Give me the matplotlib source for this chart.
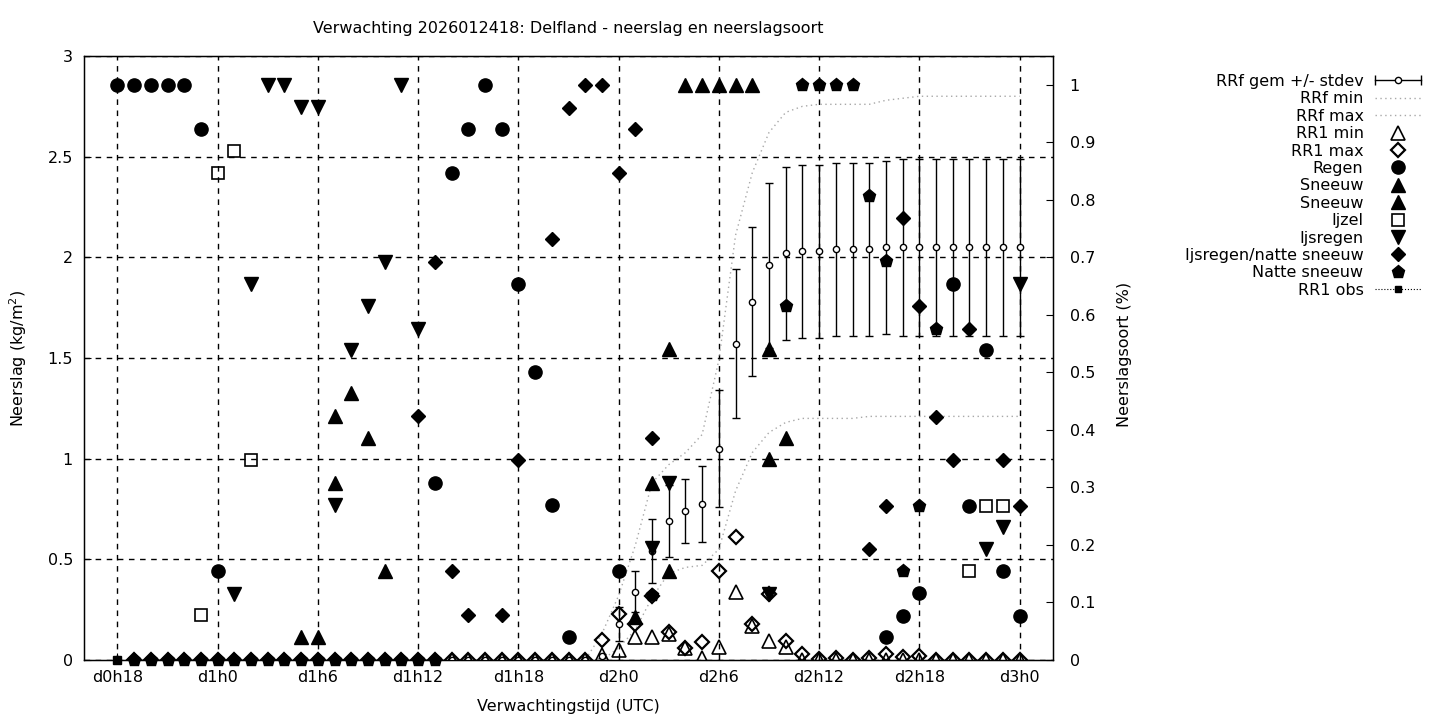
import numpy as np
import matplotlib
matplotlib.use('Agg')
import matplotlib.pyplot as plt
from matplotlib.lines import Line2D
from matplotlib.legend_handler import HandlerBase
from matplotlib.ticker import FuncFormatter

# --- data -----------------------------------------------------------------
# lead hours (hour 24 = d1h0)
uren = list(range(19, 73))

# RRf (kg/m2), left axis
rrf_gem = [0, 0, 0, 0, 0, 0, 0, 0, 0, 0, 0, 0, 0, 0, 0, 0, 0, 0, 0, 0, 0, 0, 0, 0, 0, 0, 0, 0,
           0.02, 0.18, 0.34, 0.54, 0.69, 0.74, 0.775, 1.05, 1.57, 1.78, 1.96, 2.02, 2.03,
           2.03, 2.04, 2.04, 2.04, 2.05, 2.05, 2.05, 2.05, 2.05, 2.05, 2.05, 2.05, 2.05]
rrf_std = [0, 0, 0, 0, 0, 0, 0, 0, 0, 0, 0, 0, 0, 0, 0, 0, 0, 0, 0, 0, 0, 0, 0, 0, 0, 0, 0, 0,
           0.01, 0.085, 0.10, 0.16, 0.18, 0.16, 0.19, 0.29, 0.37, 0.37, 0.41, 0.43, 0.43,
           0.43, 0.43, 0.43, 0.43, 0.43, 0.44, 0.44, 0.44, 0.44, 0.44, 0.44, 0.44, 0.44]
rrf_min = [0, 0, 0, 0, 0, 0, 0, 0, 0, 0, 0, 0, 0, 0, 0, 0, 0, 0, 0, 0, 0, 0, 0, 0, 0, 0, 0, 0,
           0, 0.06, 0.15, 0.31, 0.43, 0.46, 0.47, 0.55, 0.84, 1.03, 1.13, 1.18, 1.20,
           1.20, 1.20, 1.20, 1.21, 1.21, 1.21, 1.21, 1.21, 1.21, 1.21, 1.21, 1.21, 1.21]
rrf_max = [0, 0, 0, 0, 0, 0, 0, 0, 0, 0, 0, 0, 0, 0, 0, 0, 0, 0, 0, 0, 0, 0, 0, 0, 0, 0, 0, 0,
           0.13, 0.32, 0.57, 0.88, 0.97, 1.03, 1.12, 1.49, 2.11, 2.42, 2.62, 2.72, 2.75,
           2.76, 2.76, 2.76, 2.76, 2.78, 2.79, 2.80, 2.80, 2.80, 2.80, 2.80, 2.80, 2.80]

# RR1 (kg/m2), left axis
rr1_min = [0, 0, 0, 0, 0, 0, 0, 0, 0, 0, 0, 0, 0, 0, 0, 0, 0, 0, 0, 0, 0, 0, 0, 0, 0, 0, 0, 0,
           0.025, 0.05, 0.115, 0.115, 0.13, 0.06, 0.01, 0.065, 0.34, 0.17, 0.095, 0.065, 0,
           0, 0, 0, 0, 0, 0, 0, 0, 0, 0, 0, 0, 0]
rr1_max = [0, 0, 0, 0, 0, 0, 0, 0, 0, 0, 0, 0, 0, 0, 0, 0, 0, 0, 0, 0, 0, 0, 0, 0, 0, 0, 0, 0,
           0.10, 0.23, 0.18, 0.32, 0.14, 0.06, 0.09, 0.44, 0.61, 0.18, 0.33, 0.095, 0.03,
           0.005, 0.01, 0, 0.01, 0.03, 0.015, 0.02, 0, 0, 0, 0, 0, 0]
obs_uren = [18]
rr1_obs = [0]

# neerslagsoort (fraction), right axis
regen_uren = [18, 19, 20, 21, 22, 23, 24, 37, 38, 39, 40, 41, 42, 43, 44, 45, 48,
              64, 65, 66, 68, 69, 70, 71, 72]
regen = [1, 1, 1, 1, 1, 0.923, 0.155, 0.308, 0.847, 0.923, 1.0, 0.923, 0.654, 0.5, 0.27,
         0.04, 0.155, 0.04, 0.077, 0.117, 0.654, 0.268, 0.539, 0.155, 0.077]
sneeuw_uren = [29, 30, 31, 32, 33, 34, 49, 50, 51, 52, 53, 54, 55, 56, 57, 58]
sneeuw = [0.04, 0.04, 0.424, 0.464, 0.386, 0.155, 0.075, 0.308, 0.541, 1, 1, 1, 1, 1,
          0.541, 0.386]
sneeuw2_uren = [31, 51, 57]
sneeuw2 = [0.308, 0.155, 0.35]
ijzel_uren = [23, 24, 25, 26, 69, 70, 71]
ijzel = [0.078, 0.847, 0.885, 0.347, 0.155, 0.268, 0.268]
ijsregen_uren = [25, 26, 27, 28, 29, 30, 31, 32, 33, 34, 35, 36, 50, 51, 57, 70, 71, 72]
ijsregen = [0.115, 0.654, 1, 1, 0.962, 0.962, 0.27, 0.539, 0.616, 0.692, 1, 0.576,
            0.195, 0.308, 0.115, 0.193, 0.231, 0.654]
ijs_nat_uren = [36, 37, 38, 39, 41, 42, 44, 45, 46, 47, 48, 49, 50, 63, 64, 65, 66, 67,
                68, 69, 71, 72]
ijs_nat = [0.424, 0.692, 0.155, 0.078, 0.078, 0.347, 0.732, 0.96, 1, 1, 0.847, 0.923,
           0.386, 0.193, 0.268, 0.769, 0.616, 0.423, 0.348, 0.576, 0.348, 0.268]
nat_uren = [19, 20, 21, 22, 23, 24, 25, 26, 27, 28, 29, 30, 31, 32, 33, 34, 35, 36, 37,
            50, 58, 59, 60, 61, 62, 63, 64, 65, 66, 67]
nat = [0, 0, 0, 0, 0, 0, 0, 0, 0, 0, 0, 0, 0, 0, 0, 0, 0, 0, 0,
       0.113, 0.616, 1, 1, 1, 1, 0.807, 0.694, 0.155, 0.268, 0.576]

tick_uren = [18, 24, 30, 36, 42, 48, 54, 60, 66, 72]
tick_labels = ['d0h18', 'd1h0', 'd1h6', 'd1h12', 'd1h18', 'd2h0', 'd2h6', 'd2h12',
               'd2h18', 'd3h0']


class ErrHandler(HandlerBase):
    # gnuplot style errorbar key: horizontal line, end ticks, open circle
    def create_artists(self, legend, orig_handle, xdescent, ydescent, width, height,
                       fontsize, trans):
        y = (height - ydescent) / 2.
        x0, x1 = -xdescent, -xdescent + width
        line = Line2D([x0, x1], [y, y], color='k', lw=1)
        caps = Line2D([x0, x1], [y, y], ls='none', marker='|', ms=7, mew=1, color='k')
        dot = Line2D([(x0 + x1) / 2], [y], ls='none', marker='o', ms=4.5,
                     mfc='white', mec='k', mew=1)
        for a in (line, caps, dot):
            a.set_transform(trans)
        return [line, caps, dot]


plt.rcParams['font.family'] = ['DejaVu Sans']
plt.rcParams['font.size'] = 11

fig = plt.figure(figsize=(14.4, 7.2), dpi=100)
ax = fig.add_axes([84 / 1440, 60 / 720, (1053 - 84) / 1440, (660 - 56) / 720])
ax2 = ax.twinx()

grijs = '#a8a8a8'
dots = (0, (1, 2.5))

ax.errorbar(uren, rrf_gem, yerr=rrf_std, fmt='o', ms=4.5, mfc='white', mec='k', mew=1,
            ecolor='k', elinewidth=1, capsize=2.9, capthick=1, zorder=3)
ax.plot(uren, rrf_min, color=grijs, lw=1, ls=dots, zorder=2)
ax.plot(uren, rrf_max, color=grijs, lw=1, ls=dots, zorder=2)
ax.plot(uren, rr1_min, ls='none', marker='^', ms=10, mfc='none', mec='k', mew=1.2, zorder=4)
ax.plot(uren, rr1_max, ls='none', marker='D', ms=7.5, mfc='none', mec='k', mew=1.6, zorder=4)
ax.plot(obs_uren, rr1_obs, ls=':', marker='s', ms=5.5, color='k', lw=0.8, zorder=5,
        clip_on=False)

mk = dict(ls='none', color='k', clip_on=False)
ax2.plot(regen_uren, regen, marker='o', ms=9.5, **mk)
ax2.plot(sneeuw_uren, sneeuw, marker='^', ms=9.5, **mk)
ax2.plot(sneeuw2_uren, sneeuw2, marker='^', ms=9.5, **mk)
ax2.plot(ijzel_uren, ijzel, marker='s', ms=8.5, mfc='none', mec='k', mew=1.2,
         ls='none', clip_on=False)
ax2.plot(ijsregen_uren, ijsregen, marker='v', ms=9.5, **mk)
ax2.plot(ijs_nat_uren, ijs_nat, marker='D', ms=7.5, **mk)
ax2.plot(nat_uren, nat, marker='p', ms=9.5, **mk)

ax.set_xlim(16, 74)
ax.set_ylim(0, 3)
ax2.set_ylim(0, 1.05)

ax.set_xticks(tick_uren)
ax.set_xticklabels(tick_labels)
ax.set_yticks([0, 0.5, 1, 1.5, 2, 2.5, 3])
ax.yaxis.set_major_formatter(FuncFormatter(lambda v, p: '%g' % v))
ax2.set_yticks([0, 0.1, 0.2, 0.3, 0.4, 0.5, 0.6, 0.7, 0.8, 0.9, 1.0])
ax2.yaxis.set_major_formatter(FuncFormatter(lambda v, p: '%g' % v))

ax.tick_params(axis='x', direction='in', length=5, pad=7, labelsize=11.5)
ax.tick_params(axis='y', direction='in', length=5, pad=8, labelsize=11.5, right=False)
ax2.tick_params(axis='y', direction='in', length=5, pad=12, labelsize=11.5)

ax.grid(True, color='k', ls=(0, (4, 4)), lw=1)
ax.set_axisbelow(True)
for s in ax.spines.values():
    s.set_linewidth(1)

fig.text(568.5 / 1440, 1 - 29 / 720, 'Verwachting 2026012418: Delfland - neerslag en neerslagsoort',
         ha='center', va='center', fontsize=11.5)
fig.text(568.5 / 1440, 1 - 707 / 720, 'Verwachtingstijd (UTC)', ha='center', va='center',
         fontsize=11.5)
fig.text(18 / 1440, 1 - 358 / 720, 'Neerslag (kg/m$^2$)', ha='center', va='center',
         rotation=90, fontsize=11.5)
fig.text(1124 / 1440, 1 - 354 / 720, 'Neerslagsoort (%)', ha='center', va='center',
         rotation=90, fontsize=11.5)

# legend
err_key = Line2D([], [])
handles = [
    err_key,
    Line2D([], [], color=grijs, lw=1, ls=dots),
    Line2D([], [], color=grijs, lw=1, ls=dots),
    Line2D([], [], ls='none', marker='^', ms=9.5, mfc='none', mec='k', mew=1.2),
    Line2D([], [], ls='none', marker='D', ms=7, mfc='none', mec='k', mew=1.6),
    Line2D([], [], ls='none', marker='o', ms=9.5, color='k'),
    Line2D([], [], ls='none', marker='^', ms=9.5, color='k'),
    Line2D([], [], ls='none', marker='^', ms=9.5, color='k'),
    Line2D([], [], ls='none', marker='s', ms=8.5, mfc='none', mec='k', mew=1.2),
    Line2D([], [], ls='none', marker='v', ms=9.5, color='k'),
    Line2D([], [], ls='none', marker='D', ms=7, color='k'),
    Line2D([], [], ls='none', marker='p', ms=9.5, color='k'),
    Line2D([], [], ls=':', lw=0.8, marker='s', ms=5, color='k'),
]
labels = ['RRf gem +/- stdev', 'RRf min', 'RRf max', 'RR1 min', 'RR1 max', 'Regen',
          'Sneeuw', 'Sneeuw', 'Ijzel', 'Ijsregen', 'Ijsregen/natte sneeuw',
          'Natte sneeuw', 'RR1 obs']
fig.legend(handles, labels, loc='upper right', bbox_to_anchor=(1421 / 1440, 1 - 74 / 720),
           frameon=False, markerfirst=False, handlelength=2.9, handletextpad=0.7,
           labelspacing=0.15, borderpad=0, borderaxespad=0, fontsize=11.5,
           handler_map={err_key: ErrHandler()})

fig.savefig('out.png', dpi=100)
